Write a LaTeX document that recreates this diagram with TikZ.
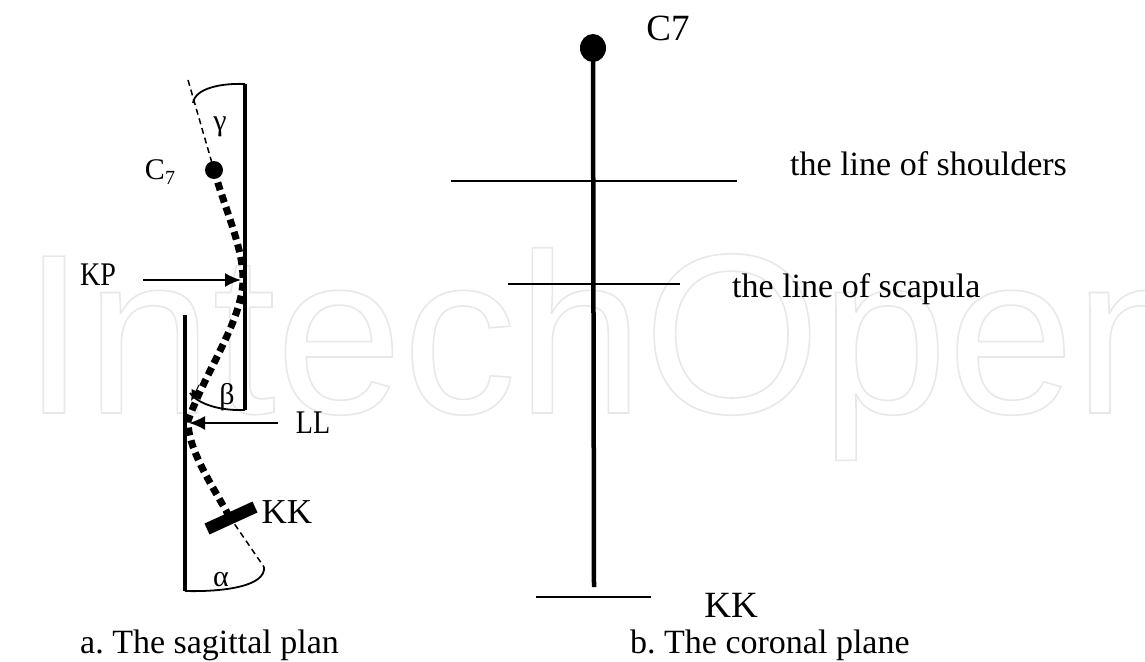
\documentclass[tikz,border=0pt]{standalone}
\usepackage{fontspec}
\setmainfont{Liberation Serif}
\newfontfamily\wmfont{Liberation Sans}
\usetikzlibrary{arrows.meta,shapes.geometric}
\frenchspacing
\tikzset{
  thickline/.style={line width=4.5pt},
  thinline/.style={line width=2pt},
  dotcurve/.style={line width=7pt, dash pattern=on 8pt off 5pt},
  thindash/.style={line width=1.5pt, dash pattern=on 6pt off 4pt},
  arcline/.style={line width=1.8pt},
  lbl/.style={inner sep=0pt, font=\fontsize{33}{36}\selectfont},
  greek/.style={inner sep=0pt, font=\fontsize{30}{32}\selectfont},
  big/.style={inner sep=0pt, font=\fontsize{37}{40}\selectfont},
  captext/.style={inner sep=0pt, anchor=base west, font=\fontsize{34}{40}\selectfont},
  arr/.style={thinline, -{Latex[length=16pt,width=14pt]}},
  bdot/.style={circle, fill=black, inner sep=0pt},
  edot/.style={ellipse, fill=black, inner sep=0pt},
}
\begin{document}
\begin{tikzpicture}[x=1pt,y=-1pt]
\useasboundingbox (0,0) rectangle (1145,661);
\fill[white] (0,0) rectangle (1145,661);
% watermark
\begin{scope}
\node[inner sep=0pt, anchor=base west, text=black!9] (wm) at (22,413)
  {\special{pdf:literal direct 1 Tr 1.6 w}\wmfont\fontsize{228}{230}\selectfont IntechOpen\special{pdf:literal direct 0 Tr 0.4 w}};
\end{scope}

% ---------- left: sagittal ----------
\coordinate (rtop) at (245,84);
\coordinate (rbot) at (245,410);
\draw[thickline] (rtop) -- (rbot);
\coordinate (ltop) at (185,315);
\coordinate (lbot) at (185,591);
\draw[thickline] (ltop) -- (lbot);

\coordinate (gtop) at (188,80);
\node[bdot, minimum size=18pt] (c7dot) at (214,170) {};
\draw[thindash] (gtop) -- (c7dot.center);
\coordinate (garc) at (193,103);
\draw[arcline] (garc) .. controls (195,88) and (222,83) .. (rtop);
\node[greek] (gamma) at (220,127) {γ};
\node[inner sep=0pt, font=\fontsize{30}{32}\selectfont] (c7l) at (160,172) {C\raisebox{-5pt}{\fontsize{20}{20}\selectfont 7}};

\node[lbl] (kp) at (98,275) {\scalebox{0.85}[1]{KP}};
\coordinate (kpstart) at (143,280);
\coordinate (kptip) at (241,280);
\draw[arr] (kpstart) -- (kptip);

\coordinate (p2) at (243,282);
\coordinate (p3) at (188,421);
\coordinate (p4) at (229,516);
\draw[dotcurve] (c7dot.center) .. controls (226,212) and (244,250) .. (p2)
  .. controls (240,325) and (206,370) .. (p3)
  .. controls (188,450) and (212,485) .. (p4);
\coordinate (sa1) at (199,385);
\coordinate (sa2) at (191,401);
\draw[line width=1pt, -{Latex[length=11pt,width=10pt]}] (sa1) -- (sa2);

\coordinate (barc) at (190,393);
\draw[arcline] (rbot) .. controls (220,411) and (198,404) .. (barc);
\node[greek] (beta) at (227,397) {β};

\coordinate (llstart) at (278,423);
\coordinate (lltip) at (189,423);
\draw[arr] (llstart) -- (lltip);
\node[lbl] (ll) at (313,423) {\scalebox{0.85}[1]{LL}};

\coordinate (kka) at (207,529);
\coordinate (kkb) at (255,507);
\draw[line width=12pt] (kka) -- (kkb);
\node[inner sep=0pt, font=\fontsize{35}{38}\selectfont] (kkl) at (287,512) {KK};
\coordinate (aend) at (264,567);
\draw[thindash] (p4) -- (aend);
\draw[arcline] (lbot) .. controls (225,592) and (266,586) .. (aend);
\node[greek] (alpha) at (221,580) {α};

% ---------- right: coronal ----------
\node[edot, minimum width=26pt, minimum height=28pt] (cdot) at (593,48) {};
\coordinate (cbot) at (594,587);
\draw[thickline] (cdot.center) -- (cbot);
\coordinate (sh1) at (451,181);
\coordinate (sh2) at (737,181);
\draw[thinline] (sh1) -- (sh2);
\coordinate (sc1) at (508,284);
\coordinate (sc2) at (680,284);
\draw[thinline] (sc1) -- (sc2);
\coordinate (kk1) at (536,597);
\coordinate (kk2) at (651,597);
\draw[thinline] (kk1) -- (kk2);
\node[big] (c7r) at (668,28) {C7};
\node[big] (kkr) at (731,605) {KK};
\node[captext] (shl) at (790,175) {the line of shoulders};
\node[captext] (scl) at (732,297) {the line of scapula};

% captions
\node[captext] (capa) at (80,653) {a. The sagittal plan};
\node[captext] (capb) at (630,653) {b. The coronal plane};
\end{tikzpicture}
\end{document}
